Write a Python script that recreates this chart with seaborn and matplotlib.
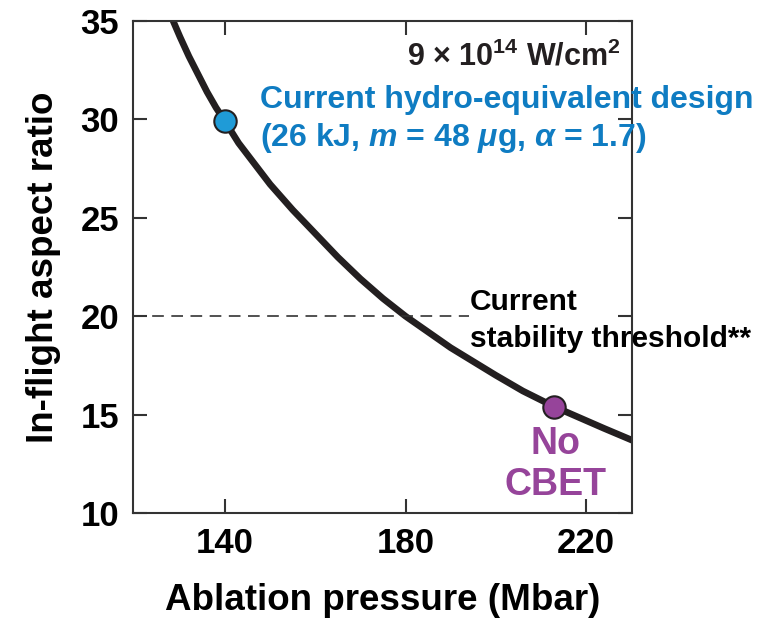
import matplotlib
matplotlib.use("Agg")
import matplotlib.pyplot as plt
import seaborn as sns
import pandas as pd

# ---- data ----
pressure = [128.5, 130, 132, 134, 136, 138, 140, 143, 146, 150, 155, 160, 165,
            170, 175, 180, 185, 190, 195, 200, 206, 213, 218, 224, 230.2]
aspect = [35.0, 34.2, 33.2, 32.3, 31.4, 30.6, 29.9, 28.8, 27.9, 26.7, 25.4, 24.2,
          23.0, 21.9, 20.9, 20.0, 19.2, 18.4, 17.7, 17.0, 16.2, 15.4, 14.9, 14.3, 13.7]

design_p = [140.0]
design_ar = [29.9]
nocbet_p = [213.0]
nocbet_ar = [15.4]

threshold_x = [119.6, 194.0]
threshold_y = [20, 20]

x_ticks = [140, 180, 220]
y_ticks = [10, 15, 20, 25, 30, 35]

sns.set_style("ticks")
plt.rcParams["font.family"] = ["Liberation Sans", "DejaVu Sans"]
plt.rcParams["font.weight"] = "bold"
plt.rcParams["text.color"] = "black"
plt.rcParams["axes.labelcolor"] = "black"
plt.rcParams["mathtext.fontset"] = "custom"
plt.rcParams["mathtext.rm"] = "Liberation Sans:bold"
plt.rcParams["mathtext.bf"] = "Liberation Sans:bold"
plt.rcParams["mathtext.it"] = "Liberation Sans:bold:italic"

fig = plt.figure(figsize=(7.77, 6.19), dpi=100)
ax = fig.add_axes([133 / 777, 1 - 513 / 619, 499 / 777, 492 / 619])

curve = pd.DataFrame({"p": pressure, "ar": aspect})
sns.lineplot(data=curve, x="p", y="ar", ax=ax, color="#231f20", lw=4.8, sort=True)
sns.lineplot(x=threshold_x, y=threshold_y, ax=ax, color="#333333", lw=1.2,
             linestyle=(0, (7, 4.5)))
sns.scatterplot(x=design_p, y=design_ar, ax=ax, s=260, color="#1f9bd7",
                edgecolor="#231f20", linewidth=1.5, zorder=5)
sns.scatterplot(x=nocbet_p, y=nocbet_ar, ax=ax, s=260, color="#96449a",
                edgecolor="#231f20", linewidth=1.5, zorder=5)

ax.set_xlim(119.6, 230.2)
ax.set_ylim(10, 35)
ax.set_xticks(x_ticks)
ax.set_yticks(y_ticks)
ax.tick_params(direction="in", length=10, width=1.5, color="#333333",
               labelcolor="black", top=True, right=True, labelsize=25, pad=10)
for lab in ax.get_xticklabels() + ax.get_yticklabels():
    lab.set_fontweight("bold")
for s in ax.spines.values():
    s.set_linewidth(1.5)
    s.set_color("#333333")

ax.set_xlabel("Ablation pressure (Mbar)", fontsize=26.5, fontweight="bold", labelpad=17)
ax.set_ylabel("In-flight aspect ratio", fontsize=26.5, fontweight="bold", labelpad=14)

ax.text(227.6, 32.75, r"9 $\times$ 10$^{14}$ W/cm$^{2}$", ha="right", va="baseline",
        fontsize=22, fontweight="bold", color="#231f20")
blue = "#0f7cc2"
ax.text(147.8, 30.6, "Current hydro-equivalent design", ha="left", va="baseline",
        fontsize=23, fontweight="bold", color=blue)
ax.text(147.8, 28.65, r"(26 kJ, $m$ = 48 $\mu$g, $\alpha$ = 1.7)", ha="left",
        va="baseline", fontsize=23, fontweight="bold", color=blue)
ax.text(194.3, 20.3, "Current", ha="left", va="baseline", fontsize=21.5,
        fontweight="bold", color="black")
ax.text(194.3, 18.42, "stability threshold**", ha="left", va="baseline", fontsize=21.5,
        fontweight="bold", color="black")
purple = "#96449a"
ax.text(213.3, 13.0, "No", ha="center", va="baseline", fontsize=27,
        fontweight="bold", color=purple)
ax.text(213.3, 10.9, "CBET", ha="center", va="baseline", fontsize=27,
        fontweight="bold", color=purple)

fig.savefig("out.png", dpi=100)
